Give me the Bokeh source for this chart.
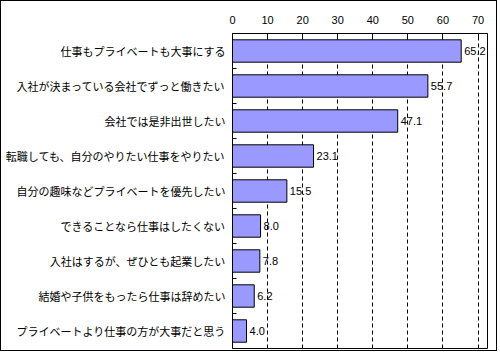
from bokeh.plotting import figure
from bokeh.models import FixedTicker, Range1d, ColumnDataSource, LabelSet
from bokeh.core.properties import value
from bokeh.embed import file_html
from bokeh.resources import INLINE

categories = [
    "仕事もプライベートも大事にする",
    "入社が決まっている会社でずっと働きたい",
    "会社では是非出世したい",
    "転職しても、自分のやりたい仕事をやりたい",
    "自分の趣味などプライベートを優先したい",
    "できることなら仕事はしたくない",
    "入社はするが、ぜひとも起業したい",
    "結婚や子供をもったら仕事は辞めたい",
    "プライベートより仕事の方が大事だと思う",
]
values = [65.2, 55.7, 47.1, 23.1, 15.5, 8.0, 7.8, 6.2, 4.0]
x_ticks = [0, 10, 20, 30, 40, 50, 60, 70]

n = len(categories)
ys = [n - 1 - i for i in range(n)]
src = ColumnDataSource(dict(y=ys, v=values, lbl=["%.1f" % v for v in values]))

p = figure(width=497, height=351, output_backend="svg", toolbar_location=None,
           x_axis_location="above",
           x_range=Range1d(0, 72.7), y_range=Range1d(-0.5, n - 0.5),
           min_border_left=231, min_border_right=11,
           min_border_top=32, min_border_bottom=4)
p.styles = {"border": "1px solid black"}
p.background_fill_color = "white"
p.border_fill_color = "white"
p.outline_line_color = "black"
p.outline_line_width = 1

p.hbar(y="y", right="v", left=0, height=0.64, source=src,
       fill_color="#9999FF", line_color="black", line_width=1)

labels = LabelSet(x="v", y="y", text="lbl", source=src, x_offset=3,
                  text_baseline="middle", text_font_size="11px",
                  text_font=value("Liberation Sans"), text_color="black")
p.add_layout(labels)

xa = p.xaxis[0]
xa.ticker = FixedTicker(ticks=x_ticks)
xa.major_tick_in = 4
xa.major_tick_out = 0
xa.minor_tick_line_color = None
xa.axis_line_color = "black"
xa.major_tick_line_color = "black"
xa.major_label_text_font = "Liberation Sans"
xa.major_label_text_font_size = "11px"
xa.major_label_text_color = "black"
xa.major_label_standoff = 10

ya = p.yaxis[0]
ya.ticker = FixedTicker(ticks=ys, minor_ticks=[y + 0.5 for y in range(n - 1)])
ya.major_label_overrides = {y: c for y, c in zip(ys, categories)}
ya.major_tick_in = 0
ya.major_tick_out = 0
ya.minor_tick_in = 4
ya.minor_tick_out = 0
ya.minor_tick_line_color = "black"
ya.axis_line_color = "black"
ya.major_label_text_font = "Noto Sans CJK JP"
ya.major_label_text_font_size = "11px"
ya.major_label_text_color = "black"
ya.major_label_standoff = 7

p.xgrid.ticker = FixedTicker(ticks=x_ticks[1:])
p.xgrid.grid_line_color = "black"
p.xgrid.grid_line_dash = "4 3"
p.xgrid.grid_line_width = 1
p.ygrid.grid_line_color = None

open("out.html", "w").write(file_html(p, INLINE))
